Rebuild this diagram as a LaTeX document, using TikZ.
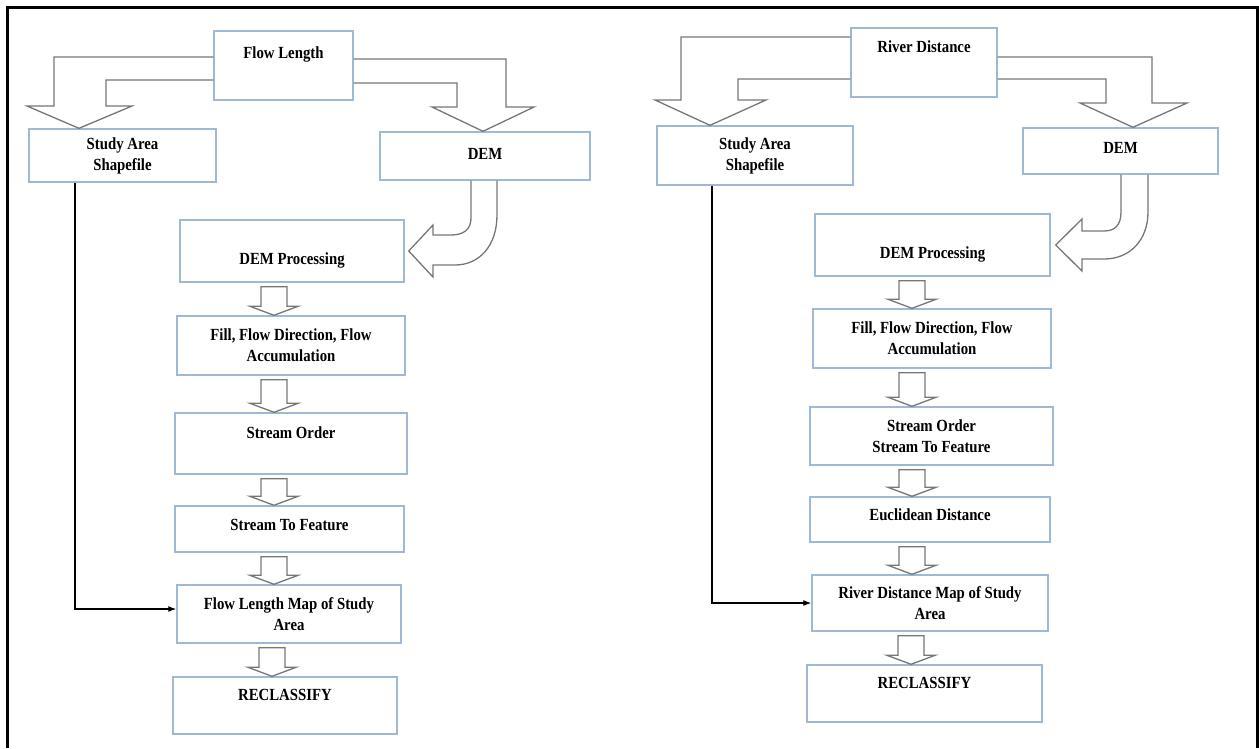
\documentclass[tikz,border=0pt]{standalone}
\usepackage{fontspec}
\setmainfont{Liberation Serif}[FakeStretch=0.87]
\usetikzlibrary{arrows.meta,calc}

\definecolor{boxblue}{RGB}{158,184,214}
\definecolor{arrowgray}{RGB}{118,118,118}

% small hollow arrow between two stacked boxes, #3 = x of its axis
\newcommand\smallarrow[3]{%
  \draw[blockarrow] let \p1=(#1.south), \p2=(#2.north) in
    ({#3pt-13pt},{\y1-4pt}) -- ({#3pt+13pt},{\y1-4pt}) -- ({#3pt+13pt},{\y2+9pt})
    -- ({#3pt+24pt},{\y2+9pt}) -- ({#3pt},{\y2}) -- ({#3pt-24pt},{\y2+9pt})
    -- ({#3pt-13pt},{\y2+9pt}) -- cycle;}

\begin{document}
\begin{tikzpicture}[x=1pt,y=-1pt,
  stepbox/.style={draw=boxblue, line width=1.4pt, align=center, inner sep=0pt,
    font=\fontsize{17}{21}\selectfont\bfseries},
  blockarrow/.style={draw=arrowgray, line width=1.3pt, line join=miter},
  feed/.style={line width=1.2pt, -{Latex[length=8pt,width=6pt]}}]
\useasboundingbox (0,0) rectangle (1259,748);
\draw[line width=3pt] (7,748) -- (7,7) -- (1257,7) -- (1257,748);

% Flow Length
\node[stepbox, minimum width=139pt, text height=27.6pt, text depth=41.4pt] (flowlen) at (283.5,65.5) {Flow Length};
\node[stepbox, minimum width=187pt, minimum height=53pt] (studyL) at (122.5,155.5) {Study Area\\Shapefile};
\node[stepbox, minimum width=210pt, text height=27.6pt, text depth=20.4pt] (demL) at (485,156) {DEM};
\node[stepbox, minimum width=224pt, text height=44.6pt, text depth=17.4pt] (procL) at (292,251) {DEM Processing};
\node[stepbox, minimum width=228pt, minimum height=59pt] (fillL) at (291,345.5) {Fill, Flow Direction, Flow\\Accumulation};
\node[stepbox, minimum width=232pt, text height=25.6pt, text depth=35.4pt] (orderL) at (291,443.5) {Stream Order};
\node[stepbox, minimum width=229pt, text height=24.6pt, text depth=21.4pt] (featL) at (289.5,529) {Stream To Feature};
\node[stepbox, minimum width=224pt, minimum height=58pt] (mapL) at (289,614) {Flow Length Map of Study\\Area};
\node[stepbox, minimum width=224pt, text height=23.6pt, text depth=33.4pt] (reclL) at (285,705.5) {RECLASSIFY};

\draw[blockarrow] (flowlen.west |- 0,57) -- (54,57) -- (54,106) -- (27,106) -- (79,0 |- studyL.north)
  -- (132,106) -- (106,106) -- (106,80) -- (flowlen.west |- 0,80);
\draw[blockarrow] (flowlen.east |- 0,59) -- (506,59) -- (506,107) -- (534,107) -- (483,0 |- demL.north)
  -- (432,107) -- (457,107) -- (457,83) -- (flowlen.east |- 0,83);
\draw[blockarrow] (471,0 |- demL.south) -- (471,218) .. controls (471,230) and (463,235) .. (451,235)
  -- (433,235) -- (433,225) -- ($(procL.east)+(4,0)$) -- (433,277) -- (433,265) -- (455,265)
  .. controls (480,265) and (497,245) .. (497,215) -- (497,0 |- demL.south);
\smallarrow{procL}{fillL}{274}
\smallarrow{fillL}{orderL}{274}
\smallarrow{orderL}{featL}{274}
\smallarrow{featL}{mapL}{274}
\smallarrow{mapL}{reclL}{272}
\draw[feed] (75,0 |- studyL.south) |- ([yshift=5pt]mapL.west);

% River Distance
\node[stepbox, minimum width=146pt, text height=24.6pt, text depth=44.4pt] (riverD) at (924,62.5) {River Distance};
\node[stepbox, minimum width=196pt, minimum height=59pt] (studyR) at (755,155.5) {Study Area\\Shapefile};
\node[stepbox, minimum width=195pt, text height=25.6pt, text depth=20.4pt] (demR) at (1120.5,151) {DEM};
\node[stepbox, minimum width=235pt, text height=44.6pt, text depth=17.4pt] (procR) at (932.5,245) {DEM Processing};
\node[stepbox, minimum width=238pt, minimum height=59pt] (fillR) at (932,338.5) {Fill, Flow Direction, Flow\\Accumulation};
\node[stepbox, minimum width=243pt, minimum height=58pt] (orderR) at (931.5,436) {Stream Order\\Stream To Feature};
\node[stepbox, minimum width=240pt, text height=23.6pt, text depth=21.4pt] (euclR) at (930,519.5) {Euclidean Distance};
\node[stepbox, minimum width=236pt, minimum height=56pt] (mapR) at (930,603) {River Distance Map of Study\\Area};
\node[stepbox, minimum width=235pt, text height=23.6pt, text depth=33.4pt] (reclR) at (924.5,693.5) {RECLASSIFY};

\draw[blockarrow] (riverD.west |- 0,37) -- (681,37) -- (681,100) -- (655,100) -- (710,0 |- studyR.north)
  -- (766,100) -- (738,100) -- (738,79) -- (riverD.west |- 0,79);
\draw[blockarrow] (riverD.east |- 0,57) -- (1152,57) -- (1152,103) -- (1187,103) -- (1133,0 |- demR.north)
  -- (1080,103) -- (1106,103) -- (1106,79) -- (riverD.east |- 0,79);
\draw[blockarrow] (1121,0 |- demR.south) -- (1121,212) .. controls (1121,225) and (1115,231) .. (1104,231)
  -- (1082,231) -- (1082,219) -- ($(procR.east)+(5,0)$) -- (1082,271) -- (1082,259) -- (1104,259)
  .. controls (1130,259) and (1148,240) .. (1148,212) -- (1148,0 |- demR.south);
\smallarrow{procR}{fillR}{912}
\smallarrow{fillR}{orderR}{912}
\smallarrow{orderR}{euclR}{912}
\smallarrow{euclR}{mapR}{912}
\smallarrow{mapR}{reclR}{911}
\draw[feed] (712,0 |- studyR.south) |- (mapR.west);
\end{tikzpicture}
\end{document}
